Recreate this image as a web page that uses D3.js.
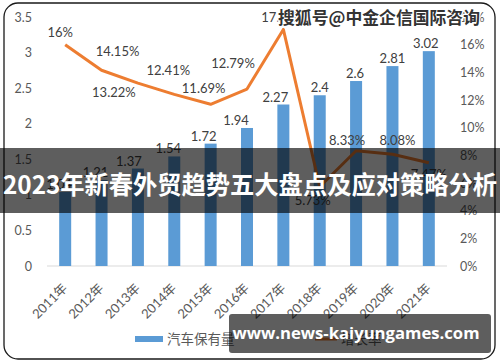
<!DOCTYPE html>
<html><head><meta charset="utf-8">
<script src="https://cdn.jsdelivr.net/npm/d3@7"></script>
<style>body{margin:0;background:#fff}svg{display:block}</style>
</head><body>
<svg id="c" width="500" height="362"></svg>
<script>
const years = ["2011年","2012年","2013年","2014年","2015年","2016年","2017年","2018年","2019年","2020年","2021年"];
const carStock = [1.04,1.21,1.37,1.54,1.72,1.94,2.27,2.4,2.6,2.81,3.02];
const growth = [16,14.15,13.22,12.41,11.69,12.79,17.1,5.73,8.33,8.08,7.47];
const growthLabels = ["16%","14.15%","13.22%","12.41%","11.69%","12.79%","17.1%","5.73%","8.33%","8.08%","7.47%"];
const leftTicks = [0,0.5,1,1.5,2,2.5,3,3.5];
const rightTicks = [0,2,4,6,8,10,12,14,16,18];
const legendNames = ["汽车保有量","增长率"];
// label nudges (layout only)
const barLabelDx = [-6,-6,-9,-6,-7,-11,-8,0,-1,0,-3];
const lineLabelDx = [-5,16,-24,-6,-7,-14,-4,-7,-9,5,0];
const lineLabelDy = [-8,-14,14,-19,-11,-21,-7,18,-6,-9,16];

const svg = d3.select("#c");
const font = "Lato, 'Noto Sans CJK SC', sans-serif";
const x0 = 47, x1 = 447, yTop = 17, yBase = 266;
const x = d3.scaleBand().domain(years).range([x0,x1]).paddingInner(0.67).paddingOuter(0.335);
const cx = d => x(d) + x.bandwidth()/2;
const yL = d3.scaleLinear().domain([0,3.5]).range([yBase,yTop]);
const yR = d3.scaleLinear().domain([0,18]).range([yBase,yTop]);

// frame
svg.append("rect").attr("x",4).attr("y",3).attr("width",491).attr("height",356)
  .attr("rx",14).attr("fill","#fff").attr("stroke","#1a1a1a").attr("stroke-width",1.3);

// left axis
const gl = svg.append("g").attr("transform",`translate(${x0},0)`)
  .call(d3.axisLeft(yL).tickValues(leftTicks).tickSize(0).tickPadding(15).tickFormat(d3.format("")));
gl.select(".domain").remove();
gl.selectAll("text").attr("font-family",font).attr("font-size",12.5).attr("fill","#595959");

// right axis
const gr = svg.append("g").attr("transform",`translate(${x1},0)`)
  .call(d3.axisRight(yR).tickValues(rightTicks).tickSize(0).tickPadding(13).tickFormat(d=>d+"%"));
gr.select(".domain").remove();
gr.selectAll("text").attr("font-family",font).attr("font-size",12.5).attr("fill","#595959");

// baseline
svg.append("line").attr("x1",x0).attr("x2",x1).attr("y1",yBase).attr("y2",yBase)
  .attr("stroke","#d9d9d9").attr("stroke-width",1);

// x labels
const gx = svg.append("g").attr("transform",`translate(0,${yBase})`)
  .call(d3.axisBottom(x).tickSize(0).tickPadding(0));
gx.select(".domain").remove();
gx.selectAll("text").attr("font-family",font).attr("font-size",13).attr("fill","#595959")
  .attr("text-anchor","end").attr("dy",0)
  .attr("transform","translate(3,23) rotate(-45)");

// bars
svg.append("g").selectAll("rect").data(years).join("rect")
  .attr("x",d=>x(d)).attr("width",x.bandwidth())
  .attr("y",(d,i)=>yL(carStock[i])).attr("height",(d,i)=>yBase-yL(carStock[i]))
  .attr("fill","#5B9BD5");
svg.append("g").selectAll("text").data(years).join("text")
  .attr("x",(d,i)=>cx(d)+barLabelDx[i]).attr("y",(d,i)=>yL(carStock[i])-3)
  .attr("text-anchor","middle").attr("font-family",font).attr("font-size",13).attr("fill","#404040")
  .text((d,i)=>carStock[i]);

// line
const line = d3.line().x((d,i)=>cx(years[i])).y(d=>yR(d));
svg.append("path").datum(growth).attr("d",line).attr("fill","none")
  .attr("stroke","#ED7D31").attr("stroke-width",3).attr("stroke-linejoin","round");
svg.append("g").selectAll("text").data(years).join("text")
  .attr("x",(d,i)=>cx(d)+lineLabelDx[i]).attr("y",(d,i)=>yR(growth[i])+lineLabelDy[i])
  .attr("text-anchor","middle").attr("font-family",font).attr("font-size",13).attr("fill","#404040")
  .text((d,i)=>growthLabels[i]);

// legend
svg.append("rect").attr("x",135).attr("y",336).attr("width",28).attr("height",6).attr("fill","#5B9BD5");
svg.append("text").attr("x",167).attr("y",344).attr("font-family",font).attr("font-size",13.5)
  .attr("fill","#595959").text(legendNames[0]);
svg.append("line").attr("x1",315).attr("x2",337).attr("y1",339).attr("y2",339)
  .attr("stroke","#ED7D31").attr("stroke-width",3);
svg.append("text").attr("x",341).attr("y",344).attr("font-family",font).attr("font-size",13.5)
  .attr("fill","#595959").text(legendNames[1]);

// overlays
svg.append("text").attr("x",379).attr("y",24).attr("text-anchor","middle")
  .attr("font-family","'Noto Sans CJK SC', sans-serif").attr("font-weight","bold").attr("font-size",17)
  .attr("fill","#333").attr("stroke","#fff").attr("stroke-width",2.5).attr("paint-order","stroke")
  .attr("textLength",202).attr("lengthAdjust","spacingAndGlyphs")
  .text("搜狐号@中金企信国际咨询");

svg.append("rect").attr("x",0).attr("y",148).attr("width",500).attr("height",65)
  .attr("fill","#000").attr("fill-opacity",0.63);
svg.append("text").attr("x",250).attr("y",194).attr("text-anchor","middle")
  .attr("font-family","'Noto Sans CJK SC', sans-serif").attr("font-weight","bold").attr("font-size",25)
  .attr("fill","#fff").attr("textLength",494).attr("lengthAdjust","spacingAndGlyphs")
  .text("2023年新春外贸趋势五大盘点及应对策略分析");

svg.append("rect").attr("x",229).attr("y",314).attr("width",262).attr("height",39).attr("rx",3)
  .attr("fill","#000").attr("fill-opacity",0.63);
svg.append("text").attr("x",356).attr("y",339).attr("text-anchor","middle")
  .attr("font-family","'Open Sans', 'Noto Sans', sans-serif").attr("font-weight","bold").attr("font-size",16.5)
  .attr("fill","#fff").attr("textLength",247).attr("lengthAdjust","spacingAndGlyphs")
  .text("www.news-kaiyungames.com");
</script>
</body></html>
